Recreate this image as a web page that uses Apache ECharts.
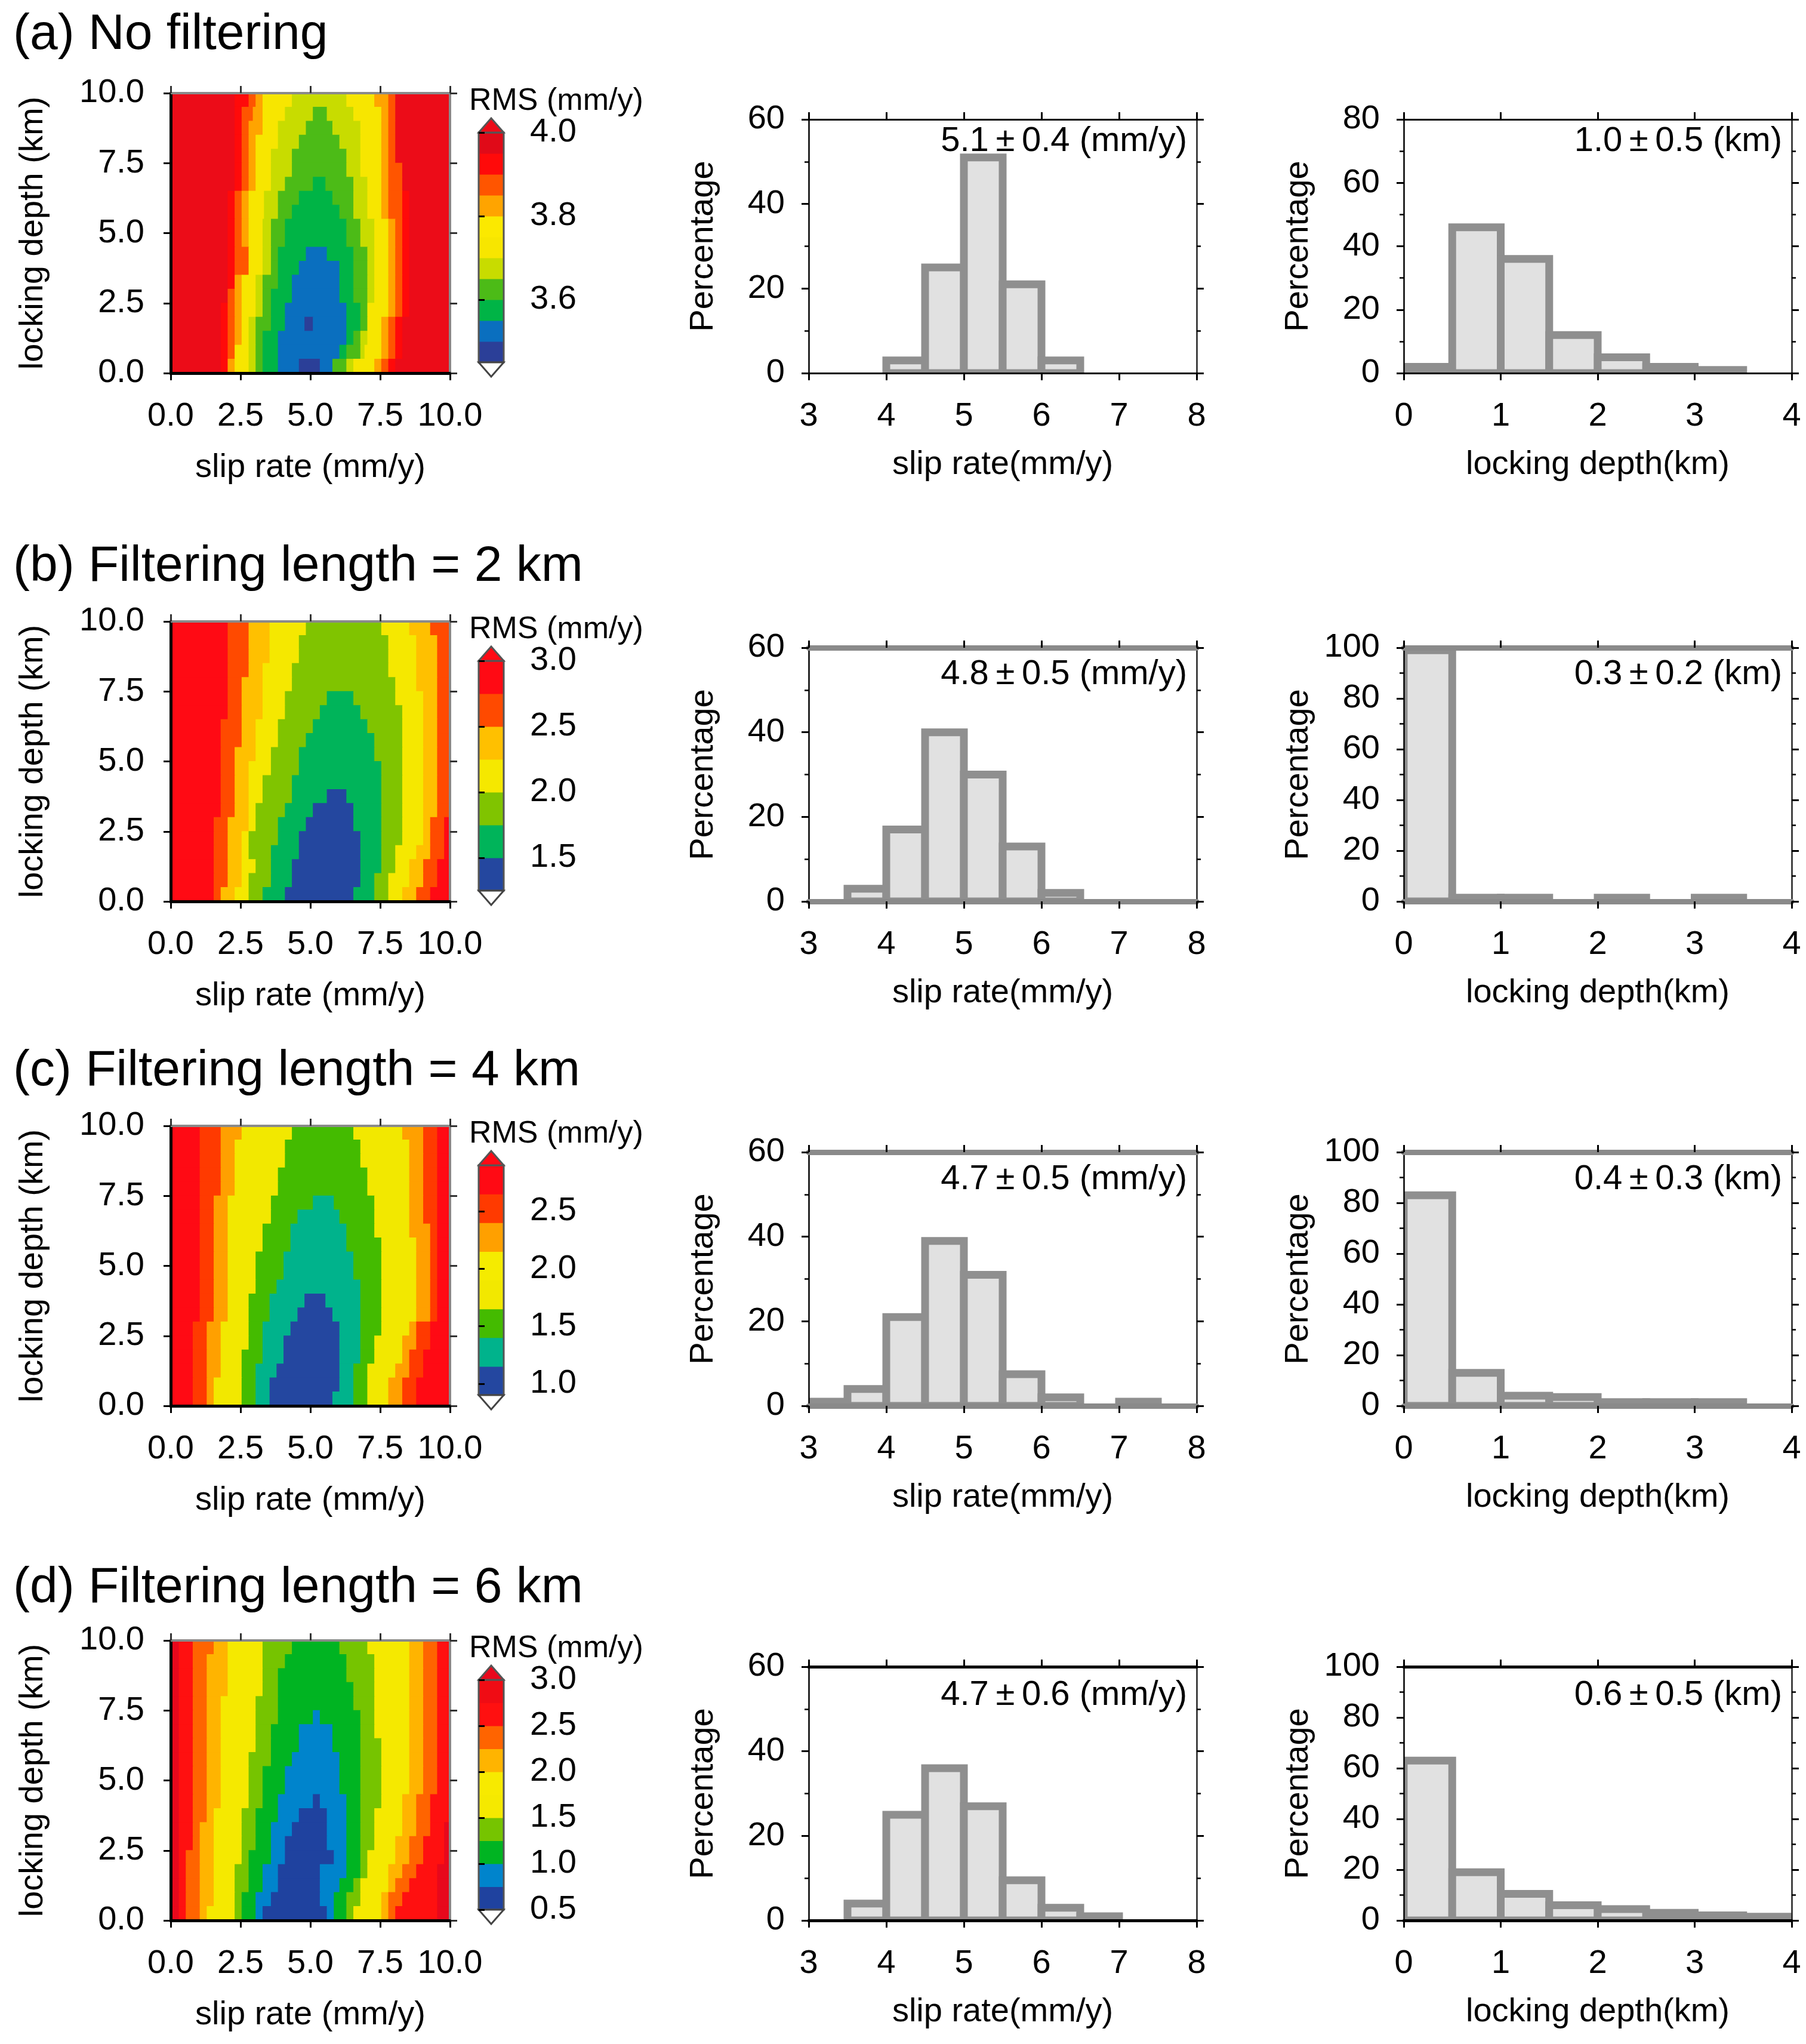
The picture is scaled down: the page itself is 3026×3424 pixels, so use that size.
<!DOCTYPE html>
<html>
<head>
<meta charset="utf-8">
<script src="https://cdn.jsdelivr.net/npm/echarts@6/dist/echarts.min.js"></script>
<style>
  html, body { margin: 0; background: #fff; }
  #chart { width: 3026px; height: 3424px; }
</style>
</head>
<body>
<div id="chart"></div>
<script>
// RMS grids: each row is one 0.5 km strip, from 10 km (top) down to 0 km.
// A row reads "code x code x code ...": colour code, then slip rate where the next code starts.
const rmsRowsA = [
  'R 2.3 9 2.8 8 3.05 7 3.3 5 4.35 4 6.3 5 7.3 7 7.8 8 8.05 R',
  'R 2.3 9 2.55 8 2.95 7 3.3 5 4.1 4 5.1 3 5.6 4 6.55 5 7.55 7 7.8 8 8.05 R',
  'R 2.3 9 2.55 8 2.8 7 3.3 5 3.85 4 4.85 3 5.8 4 6.8 5 7.55 7 7.8 8 8.05 R',
  'R 2.3 9 2.55 8 2.8 7 3.05 5 3.85 4 4.6 3 6.05 4 6.8 5 7.55 7 7.8 8 8.05 R',
  'R 2.3 9 2.55 8 2.8 7 3.05 5 3.6 4 4.35 3 6.3 4 6.8 5 7.55 7 7.8 8 8.05 R',
  'R 2.3 9 2.55 8 2.8 7 3.05 5 3.6 4 4.35 3 6.3 4 6.8 5 7.55 7 7.8 8 8.3 R',
  'R 2.3 9 2.55 8 2.8 7 3.05 5 3.6 4 4.1 3 5.1 2 5.55 3 6.55 4 7.05 5 7.55 7 7.8 8 8.3 R',
  'R 2.05 9 2.3 8 2.55 7 2.8 5 3.35 4 3.85 3 4.6 2 5.8 3 6.55 4 7.05 5 7.55 7 7.8 8 8.3 9 8.55 R',
  'R 2.05 9 2.3 8 2.55 7 2.8 5 3.35 4 3.85 3 4.35 2 6.05 3 6.55 4 7.05 5 7.55 7 7.8 8 8.3 9 8.55 R',
  'R 2.05 9 2.3 8 2.55 7 2.8 5 3.3 4 3.6 3 4.1 2 6.3 3 6.8 4 7.3 5 7.8 7 8.05 8 8.3 9 8.55 R',
  'R 2.05 9 2.3 8 2.55 7 2.8 5 3.3 4 3.6 3 4.1 2 6.3 3 6.8 4 7.3 5 7.8 7 8.05 8 8.3 9 8.55 R',
  'R 2.05 9 2.3 8 2.8 5 3.3 4 3.6 3 3.85 2 4.85 1 5.6 2 6.55 3 7.05 4 7.3 5 7.8 7 8.05 8 8.3 9 8.55 R',
  'R 2.05 9 2.3 8 2.8 5 3.3 4 3.6 3 3.85 2 4.6 1 6.05 2 6.55 3 7.05 4 7.3 5 7.8 7 8.05 8 8.3 9 8.55 R',
  'R 2.05 9 2.3 7 2.55 5 3.05 4 3.3 3 3.85 2 4.35 1 6.05 2 6.55 3 7.05 4 7.3 5 7.8 7 8.05 8 8.3 9 8.55 R',
  'R 2.05 8 2.3 7 2.55 5 3.05 4 3.3 3 3.6 2 4.35 1 6.05 2 6.55 3 7.05 4 7.3 5 7.8 7 8.05 8 8.3 9 8.55 R',
  'R 1.8 9 2.05 8 2.3 7 2.55 5 3.05 4 3.3 3 3.6 2 4.1 1 6.3 2 6.8 3 7.05 5 7.8 7 8.05 8 8.3 9 8.55 R',
  'R 1.8 9 2.05 8 2.3 7 2.55 5 2.8 4 3.05 3 3.6 2 4.1 1 4.8 0 5.1 1 6.3 2 6.8 3 7.05 5 7.55 7 7.8 8 8.05 9 8.3 R',
  'R 1.8 9 2.05 8 2.3 7 2.55 5 2.8 4 3.05 3 3.3 2 3.85 1 6.3 2 6.55 3 6.8 4 7.05 5 7.55 7 7.8 8 8.05 9 8.3 R',
  'R 1.8 9 2.05 8 2.3 5 2.8 4 3.05 3 3.3 2 3.85 1 6.05 2 6.3 3 6.8 4 6.95 5 7.55 7 7.8 8 8.05 9 8.3 R',
  'R 1.8 9 2.05 7 2.3 5 2.8 4 3.05 3 3.3 2 3.85 1 4.6 0 5.35 1 5.8 3 6.3 4 6.55 5 7.3 7 7.55 8 7.8 9 8.05 R'
];
const rmsRowsB = [
  '6 2.05 5 2.8 4 3.55 3 4.85 2 7.55 3 8.55 4 9.3 5',
  '6 2.05 5 2.8 4 3.55 3 4.6 2 7.8 3 8.8 4 9.55 5',
  '6 2.05 5 2.8 4 3.55 3 4.6 2 7.8 3 8.8 4 9.55 5',
  '6 2.05 5 2.8 4 3.3 3 4.35 2 7.8 3 8.8 4 9.55 5',
  '6 2.05 5 2.55 4 3.3 3 4.35 2 8.05 3 8.8 4 9.55 5',
  '6 2.05 5 2.55 4 3.3 3 4.1 2 5.6 1 6.55 2 8.05 3 9.05 4 9.55 5',
  '6 2.05 5 2.55 4 3.3 3 4.1 2 5.35 1 6.8 2 8.3 3 9.05 4 9.55 5',
  '6 1.8 5 2.55 4 3.05 3 3.85 2 5.1 1 7.05 2 8.3 3 9.05 4 9.55 5',
  '6 1.8 5 2.55 4 3.05 3 3.85 2 4.85 1 7.3 2 8.3 3 9.05 4 9.55 5',
  '6 1.8 5 2.3 4 3.05 3 3.6 2 4.6 1 7.3 2 8.3 3 9.05 4 9.55 5',
  '6 1.8 5 2.3 4 2.8 3 3.6 2 4.6 1 7.55 2 8.3 3 9.05 4 9.55 5',
  '6 1.8 5 2.3 4 2.8 3 3.3 2 4.35 1 7.55 2 8.3 3 9.05 4 9.55 5',
  '6 1.8 5 2.3 4 2.8 3 3.3 2 4.35 1 5.6 0 6.3 1 7.55 2 8.3 3 9.05 4 9.55 5',
  '6 1.8 5 2.3 4 2.8 3 3.05 2 4.1 1 5.1 0 6.55 1 7.55 2 8.3 3 9.05 4 9.55 5',
  '6 1.55 5 2.05 4 2.8 3 3.05 2 3.85 1 4.85 0 6.55 1 7.55 2 8.3 3 9.05 4 9.3 5 9.8 6',
  '6 1.55 5 2.05 4 2.55 3 2.8 2 3.85 1 4.6 0 6.8 1 7.55 2 8.3 3 9.05 4 9.3 5 9.8 6',
  '6 1.55 5 2.05 4 2.55 3 2.8 2 3.6 1 4.6 0 6.8 1 7.55 2 8.05 3 8.8 4 9.3 5 9.8 6',
  '6 1.55 5 2.05 4 2.55 3 3.05 2 3.6 1 4.35 0 6.8 1 7.55 2 8.05 3 8.55 4 9.05 5 9.55 6',
  '6 1.55 5 2.05 4 2.55 3 2.8 2 3.6 1 4.35 0 6.8 1 7.3 2 7.8 3 8.55 4 9.05 5 9.55 6',
  '6 1.55 5 1.8 4 2.3 3 2.8 2 3.3 1 4.1 0 6.55 1 7.3 2 7.8 3 8.3 4 8.8 5 9.3 6'
];
const rmsRowsC = [
  '7 1.05 6 1.8 5 2.55 3 4.35 2 6.55 3 8.3 5 9.05 6 9.55 7',
  '7 1.05 6 1.8 5 2.3 3 4.1 2 6.8 3 8.55 5 9.05 6 9.55 7',
  '7 1.05 6 1.8 5 2.3 3 4.1 2 6.8 3 8.55 5 9.05 6 9.55 7',
  '7 1.05 6 1.8 5 2.3 3 3.85 2 7.05 3 8.55 5 9.05 6 9.55 7',
  '7 1.05 6 1.8 5 2.3 3 3.85 2 7.05 3 8.55 5 9.05 6 9.55 7',
  '7 1.05 6 1.55 5 2.05 3 3.6 2 5.1 1 5.85 2 7.3 3 8.55 5 9.05 6 9.55 7',
  '7 1.05 6 1.55 5 2.05 3 3.6 2 4.55 1 6.05 2 7.3 3 8.55 5 9.05 6 9.55 7',
  '7 1.05 6 1.55 5 2.05 3 3.3 2 4.3 1 6.3 2 7.3 3 8.55 5 9.3 6 9.55 7',
  '7 1.05 6 1.55 5 2.05 3 3.3 2 4.3 1 6.3 2 7.55 3 8.8 5 9.3 6 9.55 7',
  '7 1.05 6 1.55 5 2.05 3 3.05 2 4.05 1 6.55 2 7.55 3 8.8 5 9.3 6 9.55 7',
  '7 1.05 6 1.55 5 2.05 3 3.05 2 4.05 1 6.55 2 7.55 3 8.8 5 9.3 6 9.55 7',
  '7 1.05 6 1.55 5 2.05 3 3.05 2 3.8 1 6.8 2 7.55 3 8.8 5 9.3 6 9.55 7',
  '7 1.05 6 1.55 5 2.05 3 2.8 2 3.55 1 4.8 0 5.55 1 6.8 2 7.55 3 8.8 5 9.3 6 9.55 7',
  '7 1.05 6 1.55 5 2.05 3 2.8 2 3.55 1 4.55 0 5.8 1 6.8 2 7.55 3 8.8 5 9.3 6 9.55 7',
  '7 0.8 6 1.3 5 1.8 3 2.8 2 3.3 1 4.3 0 6.05 1 6.8 2 7.55 3 8.55 5 8.8 6 9.3 7',
  '7 0.8 6 1.3 5 1.8 3 2.8 2 3.3 1 4.05 0 6.05 1 6.8 2 7.3 3 8.3 5 8.8 6 9.3 7',
  '7 0.8 6 1.3 5 1.8 3 2.55 2 3.3 1 4.05 0 6.05 1 6.8 2 7.3 3 8.3 5 8.55 6 9.05 7',
  '7 0.8 6 1.3 5 1.8 3 2.55 2 3.05 1 3.8 0 6.05 1 6.55 2 7.05 3 8.05 5 8.55 6 9.05 7',
  '7 0.8 6 1.3 5 1.55 3 2.55 2 3.05 1 3.55 0 6.05 1 6.55 2 7.05 3 7.8 5 8.3 6 8.8 7',
  '7 0.8 6 1.3 5 1.55 3 2.55 2 3.05 1 3.55 0 5.8 1 6.55 2 7.05 3 7.8 5 8.3 6 8.8 7'
];
const rmsRowsD = [
  'R 0.3 8 0.8 7 1.55 6 2.05 4 3.3 3 4.35 2 6.05 3 7.05 4 8.55 6 9.05 7 9.55 8',
  'R 0.3 8 0.8 7 1.3 6 2.05 4 3.3 3 4.1 2 6.3 3 7.3 4 8.55 6 9.05 7 9.55 8',
  'R 0.3 8 0.8 7 1.3 6 2.05 4 3.3 3 3.85 2 6.3 3 7.3 4 8.55 6 9.05 7 9.55 8',
  'R 0.3 8 0.8 7 1.3 6 2.05 4 3.3 3 3.85 2 6.55 3 7.3 4 8.55 6 9.05 7 9.55 8',
  'R 0.3 8 0.8 7 1.3 6 1.8 4 3.05 3 3.85 2 6.55 3 7.3 4 8.55 6 9.05 7 9.55 8',
  'R 0.3 8 0.8 7 1.3 6 1.8 4 3.05 3 3.85 2 5.1 1 5.35 2 6.8 3 7.3 4 8.55 6 9.05 7 9.55 8',
  'R 0.3 8 0.8 7 1.3 6 1.8 4 3.05 3 3.6 2 4.6 1 5.8 2 6.8 3 7.3 4 8.55 6 9.05 7 9.55 8',
  'R 0.3 8 0.8 7 1.3 6 1.8 4 3.05 3 3.6 2 4.6 1 5.8 2 6.8 3 7.55 4 8.55 6 9.05 7 9.55 8',
  'R 0.3 8 0.8 7 1.3 6 1.8 4 2.8 3 3.6 2 4.35 1 6.05 2 6.8 3 7.55 4 8.55 6 9.05 7 9.55 8',
  'R 0.3 8 0.8 7 1.3 6 1.8 4 2.8 3 3.3 2 4.1 1 6.05 2 6.8 3 7.55 4 8.55 6 9.05 7 9.55 8',
  'R 0.3 8 0.8 7 1.3 6 1.8 4 2.8 3 3.3 2 4.1 1 6.05 2 6.8 3 7.55 4 8.55 6 9.05 7 9.55 8',
  'R 0.3 8 0.8 7 1.3 6 1.8 4 2.8 3 3.3 2 3.85 1 5.1 0 5.35 1 6.3 2 6.8 3 7.55 4 8.3 6 8.8 7 9.3 8',
  'R 0.3 8 0.8 7 1.3 6 1.55 4 2.55 3 3.05 2 3.85 1 4.6 0 5.6 1 6.3 2 6.8 3 7.3 4 8.3 6 8.8 7 9.3 8',
  'R 0.3 8 0.8 7 1.05 6 1.55 4 2.55 3 3.05 2 3.6 1 4.35 0 5.6 1 6.3 2 6.8 3 7.3 4 8.3 6 8.8 7 9.3 8 9.8 R',
  'R 0.3 8 0.8 7 1.05 6 1.55 4 2.55 3 3.05 2 3.6 1 4.1 0 5.6 1 6.3 2 6.8 3 7.3 4 8.05 6 8.55 7 9.05 8 9.8 R',
  'R 0.3 8 0.55 7 1.05 6 1.55 4 2.55 3 2.8 2 3.6 1 4.1 0 5.85 1 6.3 2 6.8 3 7.05 4 8.05 6 8.55 7 9.05 8 9.8 R',
  'R 0.3 8 0.55 7 1.05 6 1.55 4 2.3 3 2.8 2 3.3 1 3.85 0 5.35 1 6.3 2 6.8 3 7.05 4 7.8 6 8.3 7 8.8 8 9.55 R',
  'R 0.3 8 0.55 7 1.05 6 1.55 4 2.3 3 2.8 2 3.3 1 3.85 0 5.35 1 6.05 2 6.55 3 6.8 4 7.8 6 8.05 7 8.55 8 9.55 R',
  'R 0.3 8 0.55 7 1.05 6 1.55 4 2.3 3 2.55 2 3.05 1 3.6 0 5.35 1 5.85 2 6.3 3 6.8 4 7.55 6 7.8 7 8.3 8 9.55 R',
  'R 0.3 8 0.55 7 1.05 6 1.3 4 2.3 3 2.55 2 3.05 1 3.3 0 5.6 1 5.85 2 6.3 3 6.55 4 7.55 6 7.8 7 8.05 8 9.55 R'
];

// colour scales: level edges (mm/y), one colour per interval, colour above the top
const cbLevelsA = [3.45, 3.5, 3.55, 3.6, 3.65, 3.7, 3.75, 3.8, 3.85, 3.9, 3.95, 4.0];
const cbLevelsB = [1.25, 1.5, 1.75, 2.0, 2.25, 2.5, 2.75, 3.0];
const cbLevelsC = [0.9, 1.15, 1.4, 1.65, 1.9, 2.15, 2.4, 2.65, 2.9];
const cbLevelsD = [0.5, 0.75, 1.0, 1.25, 1.5, 1.75, 2.0, 2.25, 2.5, 2.75, 3.0];
const cbColorsA = ['#2b3f98', '#0a6fbf', '#00b446', '#4cbb17', '#c8dc00', '#f7e600', '#fbe900', '#ffa400', '#ff5500', '#ff0a0a', '#e00a18'];
const cbColorsB = ['#24479f', '#00b45a', '#80c400', '#f5e800', '#ffc000', '#ff4a00', '#ff0a14'];
const cbColorsC = ['#2447a0', '#00b38c', '#44bb00', '#f2e800', '#f5eb00', '#ffa000', '#ff3a00', '#ff0a14'];
const cbColorsD = ['#1f429f', '#0084cc', '#00b422', '#76c400', '#f5e900', '#f7ea00', '#ffb400', '#ff6400', '#ff1010', '#f00c14'];
const cbAbove = ['#ec0c18', '#ff0a14', '#ff0a14', '#e8081c'];
const cbTickA = [3.6, 3.8, 4.0];
const cbTickB = [1.5, 2.0, 2.5, 3.0];
const cbTickC = [1.0, 1.5, 2.0, 2.5];
const cbTickD = [0.5, 1.0, 1.5, 2.0, 2.5, 3.0];

// histograms (percentage per 0.5-wide bin)
const slipBins = [3, 3.5, 4, 4.5, 5, 5.5, 6, 6.5, 7, 7.5];
const depthBins = [0, 0.5, 1, 1.5, 2, 2.5, 3, 3.5];
const slipPctA = [0, 0, 3, 25, 51, 21, 3, 0, 0, 0];
const slipPctB = [0, 3, 17, 40, 30, 13, 2, 0, 0, 0];
const slipPctC = [1, 4, 21, 39, 31, 7.5, 2, 0, 1, 0];
const slipPctD = [0, 4, 25, 36, 27, 9.5, 3, 1, 0, 0];
const depthPctA = [2, 46, 36, 12, 5, 2, 1, 0];
const depthPctB = [99, 1.5, 1.5, 0, 1.5, 0, 1.5, 0];
const depthPctC = [83, 13, 4, 3.5, 1.5, 1.5, 1.5, 0];
const depthPctD = [63, 19, 10.5, 6, 4.5, 3, 2, 1.5];
const slipMax = [60, 60, 60, 60];
const depthMax = [80, 100, 100, 100];

const titles = ['(a) No filtering', '(b) Filtering length = 2 km', '(c) Filtering length = 4 km', '(d) Filtering length = 6 km'];
const slipText = ['5.1\u2009\u00b1\u20090.4 (mm/y)', '4.8\u2009\u00b1\u20090.5 (mm/y)', '4.7\u2009\u00b1\u20090.5 (mm/y)', '4.7\u2009\u00b1\u20090.6 (mm/y)'];
const depthText = ['1.0\u2009\u00b1\u20090.5 (km)', '0.3\u2009\u00b1\u20090.2 (km)', '0.4\u2009\u00b1\u20090.3 (km)', '0.6\u2009\u00b1\u20090.5 (km)'];

const panels = [
  { rows: rmsRowsA, levels: cbLevelsA, colors: cbColorsA, ticks: cbTickA, slip: slipPctA, depth: depthPctA },
  { rows: rmsRowsB, levels: cbLevelsB, colors: cbColorsB, ticks: cbTickB, slip: slipPctB, depth: depthPctB },
  { rows: rmsRowsC, levels: cbLevelsC, colors: cbColorsC, ticks: cbTickC, slip: slipPctC, depth: depthPctC },
  { rows: rmsRowsD, levels: cbLevelsD, colors: cbColorsD, ticks: cbTickD, slip: slipPctD, depth: depthPctD }
];

// layout
const FONT = 'Liberation Sans';
const ROW_TOP = [156, 1041, 1886, 2748];
const TITLE_Y = [59, 950, 1795, 2661];
const NOTE_DY = [37, 45, 46, 48];
const HIST_FRAME = [['#000', 3], ['#8a8a8a', 9], ['#8a8a8a', 9], ['#000', 5]];
const lab = { fontFamily: FONT, fontSize: 56, color: '#000' };

const chart = echarts.init(document.getElementById('chart'));
const grid = [], xAxis = [], yAxis = [], series = [], graphic = [];
const push = (arr, o) => { arr.push(o); return arr.length - 1; };

function tickStyle(color) {
  return { show: true, length: 12, lineStyle: { color: color, width: 3 } };
}

panels.forEach((p, i) => {
  const T = ROW_TOP[i];

  // ---- RMS map ----
  const gH = push(grid, { left: 286, top: T, width: 468, height: 469 });
  const hx = push(xAxis, {
    gridIndex: gH, type: 'value', min: 0, max: 10, interval: 2.5, position: 'bottom', z: 10,
    axisLine: { onZero: false, lineStyle: { color: '#000', width: 5 } },
    axisTick: tickStyle('#000'),
    axisLabel: Object.assign({ margin: 45, formatter: v => v.toFixed(1) }, lab),
    splitLine: { show: false },
    name: 'slip rate (mm/y)', nameLocation: 'middle', nameGap: 131, nameTextStyle: lab
  });
  push(xAxis, {
    gridIndex: gH, type: 'value', min: 0, max: 10, interval: 2.5, position: 'top', z: 10,
    axisLine: { onZero: false, lineStyle: { color: '#8a8a8a', width: 4 } },
    axisTick: tickStyle('#333'), axisLabel: { show: false }, splitLine: { show: false }
  });
  const hy = push(yAxis, {
    gridIndex: gH, type: 'value', min: 0, max: 10, interval: 2.5, position: 'left', z: 10,
    axisLine: { onZero: false, lineStyle: { color: '#000', width: 5 } },
    axisTick: tickStyle('#000'),
    axisLabel: Object.assign({ margin: 44, formatter: v => v.toFixed(1) }, lab),
    splitLine: { show: false },
    name: 'locking depth (km)', nameLocation: 'middle', nameGap: 202, nameTextStyle: lab
  });
  push(yAxis, {
    gridIndex: gH, type: 'value', min: 0, max: 10, interval: 2.5, position: 'right', z: 10,
    axisLine: { onZero: false, lineStyle: { color: '#8a8a8a', width: 4 } },
    axisTick: tickStyle('#333'), axisLabel: { show: false }, splitLine: { show: false }
  });

  const cells = [];
  p.rows.forEach((str, r) => {
    const t = str.split(' ');
    const yTop = 10 - r * 0.5;
    for (let k = 0; k < t.length; k += 2) {
      const x0 = k === 0 ? 0 : +t[k - 1];
      const x1 = k + 1 < t.length ? +t[k + 1] : 10;
      cells.push({ value: [x0, x1, yTop - 0.5, yTop], color: t[k] === 'R' ? cbAbove[i] : p.colors[+t[k]] });
    }
  });
  series.push({
    type: 'custom', xAxisIndex: hx, yAxisIndex: hy, clip: true, silent: true,
    encode: { x: [0, 1], y: [2, 3] },
    data: cells.map(c => c.value),
    renderItem: (params, api) => {
      const a = api.coord([api.value(0), api.value(2)]);
      const b = api.coord([api.value(1), api.value(3)]);
      return {
        type: 'rect',
        shape: { x: a[0] - 0.5, y: b[1] - 0.5, width: b[0] - a[0] + 1, height: a[1] - b[1] + 1 },
        style: { fill: cells[params.dataIndex].color }
      };
    }
  });

  // ---- colour bar ----
  const lv = p.levels;
  const lo = lv[0], hi = lv[lv.length - 1];
  const gC = push(grid, { left: 802, top: T + 66, width: 42, height: 385 });
  const cx = push(xAxis, { gridIndex: gC, type: 'value', min: 0, max: 1, show: false });
  const cy = push(yAxis, {
    gridIndex: gC, type: 'value', min: lo, max: hi, position: 'right', z: 10,
    axisLine: { show: false },
    axisTick: { show: true, length: 10, customValues: p.ticks, lineStyle: { color: '#000', width: 3 } },
    axisLabel: Object.assign({ margin: 44, customValues: p.ticks, formatter: v => v.toFixed(1) }, lab),
    splitLine: { show: false }
  });
  const segs = p.colors.map((c, k) => [lv[k], lv[k + 1]]);
  series.push({
    type: 'custom', xAxisIndex: cx, yAxisIndex: cy, silent: true,
    encode: { y: [0, 1] },
    data: segs,
    renderItem: (params, api) => {
      const a = api.coord([0, api.value(0)]);
      const b = api.coord([1, api.value(1)]);
      return {
        type: 'rect',
        shape: { x: a[0], y: b[1] - 0.5, width: b[0] - a[0], height: a[1] - b[1] + 1 },
        style: { fill: p.colors[params.dataIndex] }
      };
    }
  });
  series.push({
    type: 'custom', xAxisIndex: cx, yAxisIndex: cy, silent: true, z: 3,
    data: [[0], [1], [2]],
    renderItem: (params, api) => {
      const a = api.coord([0, lo]);
      const b = api.coord([1, hi]);
      const mid = (a[0] + b[0]) / 2;
      const k = api.value(0);
      if (k === 0) {
        return { type: 'rect', shape: { x: a[0], y: b[1], width: b[0] - a[0], height: a[1] - b[1] },
          style: { fill: 'none', stroke: '#555', lineWidth: 3 } };
      }
      if (k === 1) {
        return { type: 'polygon', shape: { points: [[a[0], b[1]], [b[0], b[1]], [mid, b[1] - 24]] },
          style: { fill: cbAbove[i], stroke: '#555', lineWidth: 3 } };
      }
      return { type: 'polygon', shape: { points: [[a[0], a[1]], [b[0], a[1]], [mid, a[1] + 24]] },
        style: { fill: '#fff', stroke: '#444', lineWidth: 3 } };
    }
  });
  graphic.push({ type: 'text', x: 786, y: T + 14,
    style: { text: 'RMS (mm/y)', fontFamily: FONT, fontSize: 52, fill: '#000', verticalAlign: 'middle' } });

  // ---- histograms ----
  const frame = HIST_FRAME[i];
  const hists = [
    { left: 1355, bins: slipBins, pct: p.slip, min: 3, max: 8, ymax: slipMax[i], name: 'slip rate(mm/y)', note: slipText[i] },
    { left: 2352, bins: depthBins, pct: p.depth, min: 0, max: 4, ymax: depthMax[i], name: 'locking depth(km)', note: depthText[i] }
  ];
  hists.forEach(h => {
    const g = push(grid, { left: h.left, top: T + 44, width: 650, height: 425 });
    const xi = push(xAxis, {
      gridIndex: g, type: 'value', min: h.min, max: h.max, interval: 1, position: 'bottom', z: 10,
      axisLine: { onZero: false, lineStyle: { color: frame[0], width: frame[1] } },
      axisTick: tickStyle('#000'),
      axisLabel: Object.assign({ margin: 45 }, lab),
      splitLine: { show: false },
      name: h.name, nameLocation: 'middle', nameGap: 126, nameTextStyle: lab
    });
    push(xAxis, {
      gridIndex: g, type: 'value', min: h.min, max: h.max, interval: 1, position: 'top', z: 10,
      axisLine: { onZero: false, lineStyle: { color: frame[0], width: frame[1] } },
      axisTick: tickStyle('#000'), axisLabel: { show: false }, splitLine: { show: false }
    });
    const yi = push(yAxis, {
      gridIndex: g, type: 'value', min: 0, max: h.ymax, interval: 20, position: 'left', z: 10,
      axisLine: { onZero: false, lineStyle: { color: '#000', width: 2.5 } },
      axisTick: tickStyle('#000'),
      minorTick: { show: true, splitNumber: 2, length: 7, lineStyle: { color: '#000', width: 2.5 } },
      axisLabel: Object.assign({ margin: 40 }, lab),
      splitLine: { show: false },
      name: 'Percentage', nameLocation: 'middle', nameGap: 148, nameTextStyle: lab
    });
    push(yAxis, {
      gridIndex: g, type: 'value', min: 0, max: h.ymax, interval: 20, position: 'right', z: 10,
      axisLine: { onZero: false, lineStyle: { color: '#222', width: 2.5 } },
      axisTick: tickStyle('#000'),
      minorTick: { show: true, splitNumber: 2, length: 7, lineStyle: { color: '#000', width: 2.5 } },
      axisLabel: { show: false }, splitLine: { show: false }
    });
    const bars = [];
    h.bins.forEach((b, k) => { if (h.pct[k] > 0) bars.push([b, b + 0.5, h.pct[k]]); });
    series.push({
      type: 'custom', xAxisIndex: xi, yAxisIndex: yi, clip: true, silent: true,
      encode: { x: [0, 1], y: 2 },
      data: bars,
      renderItem: (params, api) => {
        const a = api.coord([api.value(0), 0]);
        const b = api.coord([api.value(1), api.value(2)]);
        return {
          type: 'rect',
          shape: { x: a[0], y: b[1], width: b[0] - a[0], height: a[1] - b[1] },
          style: { fill: '#e1e1e1', stroke: '#8f8f8f', lineWidth: 13 }
        };
      }
    });
    graphic.push({ type: 'text', x: h.left + 650 - 16, y: T + 44 + NOTE_DY[i],
      style: { text: h.note, fontFamily: FONT, fontSize: 58, fill: '#000', align: 'right', verticalAlign: 'middle' } });
  });

  graphic.push({ type: 'text', x: 22, y: TITLE_Y[i],
    style: { text: titles[i], fontFamily: FONT, fontSize: 84, fill: '#000', verticalAlign: 'middle' } });
});

chart.setOption({
  animation: false,
  backgroundColor: '#fff',
  grid: grid,
  xAxis: xAxis,
  yAxis: yAxis,
  series: series,
  graphic: graphic
});
</script>
</body>
</html>
